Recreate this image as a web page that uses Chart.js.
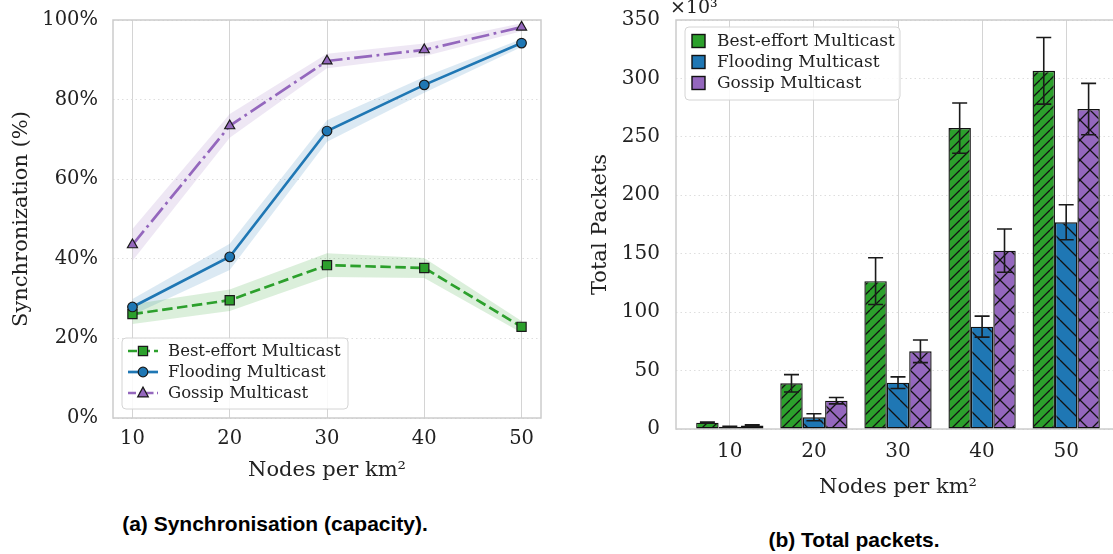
<!DOCTYPE html>
<html>
<head>
<meta charset="utf-8">
<script src="https://cdn.jsdelivr.net/npm/chart.js@4.4.1/dist/chart.umd.min.js"></script>
<style>
  html, body { margin: 0; padding: 0; background: #fff; overflow: hidden; }
  body { width: 1113px; height: 554px; position: relative; }
  #left { position: absolute; left: 0; top: 0; }
  #right { position: absolute; left: 560px; top: 0; }
  .cap { position: absolute; font: bold 21px "Liberation Sans", Arial, sans-serif; color: #000;
         transform: translate(-50%, -50%); white-space: nowrap; }
</style>
</head>
<body>
<canvas id="left" width="560" height="500"></canvas>
<canvas id="right" width="580" height="520"></canvas>
<div class="cap" style="left:275px; top:524px">(a) Synchronisation (capacity).</div>
<div class="cap" style="left:854px; top:540px">(b) Total packets.</div>
<script>
// values
const nodes = [10, 20, 30, 40, 50];
const seriesNames = ["Best-effort Multicast", "Flooding Multicast", "Gossip Multicast"];

// (a) synchronisation, percent, with shaded band half-widths
const syncBest = [26.1, 29.6, 38.4, 37.7, 22.9];
const syncFlood = [27.9, 40.5, 72.1, 83.7, 94.2];
const syncGossip = [43.5, 73.4, 89.7, 92.5, 98.2];
const syncBestBand = [2.5, 2.7, 3.0, 2.5, 1.5];
const syncFloodBand = [2.0, 3.3, 2.7, 2.0, 1.0];
const syncGossipBand = [4.0, 3.0, 1.8, 1.6, 1.0];

// (b) total packets, in thousands, with error bar half-heights
const pktBest = [5.4, 39.1, 126.5, 257.5, 306.5];
const pktFlood = [2.0, 10.0, 39.6, 87.6, 176.9];
const pktGossip = [2.9, 24.2, 66.5, 152.6, 273.8];
const pktBestErr = [0.5, 7.4, 20.0, 21.5, 28.5];
const pktFloodErr = [0.4, 3.0, 5.0, 9.0, 15.0];
const pktGossipErr = [0.6, 2.7, 9.7, 18.5, 22.0];

const GREEN = "#2ca02c", BLUE = "#1f77b4", PURPLE = "#9467bd";
const TXT = "#222222", EDGE = "#1a1a1a";

Chart.defaults.font.family = "'DejaVu Serif', serif";
Chart.defaults.color = TXT;

function marker(ctx, style, x, y, r, fill) {
    ctx.save();
    ctx.setLineDash([]);
    ctx.fillStyle = fill;
    ctx.strokeStyle = EDGE;
    ctx.lineWidth = 1.2;
    ctx.beginPath();
    if (style === "rect") {
        ctx.rect(x - r, y - r, 2 * r, 2 * r);
    } else if (style === "circle") {
        ctx.arc(x, y, r, 0, Math.PI * 2);
    } else {
        ctx.moveTo(x, y - r * 1.05);
        ctx.lineTo(x + r * 0.95, y + r * 0.7);
        ctx.lineTo(x - r * 0.95, y + r * 0.7);
        ctx.closePath();
    }
    ctx.fill();
    ctx.stroke();
    ctx.restore();
}

function roundBox(ctx, x, y, w, h) {
    ctx.save();
    ctx.beginPath();
    ctx.roundRect(x, y, w, h, 4);
    ctx.fillStyle = "rgba(255,255,255,0.85)";
    ctx.fill();
    ctx.strokeStyle = "#d4d4d4";
    ctx.lineWidth = 1;
    ctx.stroke();
    ctx.restore();
}

// frame around plot area, like the matplotlib spines
const frame = {
    id: "frame",
    beforeDatasetsDraw(chart) {
        const a = chart.chartArea, ctx = chart.ctx;
        ctx.save();
        ctx.strokeStyle = "#cccccc";
        ctx.lineWidth = 1.5;
        ctx.strokeRect(a.left, a.top, a.right - a.left, a.bottom - a.top);
        ctx.restore();
    }
};

// y axis: fixed width, and no extra top padding for the last tick label
function fixY(width) {
    return s => { s.width = width; s.paddingTop = 0; s.paddingBottom = 0; };
}

// ---------- (a) line chart ----------
function pts(vals, band, sign) {
    return nodes.map((n, i) => ({ x: n, y: vals[i] + sign * band[i] }));
}

const lineStyles = [
    { vals: syncBest, band: syncBestBand, color: GREEN, fillc: "rgba(44,160,44,0.17)", dash: [10.5, 4.5], legendDash: [9, 4], style: "rect", r: 4.6, pr: 6.5 },
    { vals: syncFlood, band: syncFloodBand, color: BLUE, fillc: "rgba(31,119,180,0.16)", dash: [], legendDash: [], style: "circle", r: 4.8, pr: 4.8 },
    { vals: syncGossip, band: syncGossipBand, color: PURPLE, fillc: "rgba(148,103,189,0.16)", dash: [18, 4.5, 2.8, 4.5], legendDash: [8, 3.5, 2.5, 3.5], style: "triangle", r: 5.6, pr: 5.8 }
];

const leftSets = [];
lineStyles.forEach(s => {
    leftSets.push({ data: pts(s.vals, s.band, 1), borderColor: "transparent", borderWidth: 0,
        pointRadius: 0, fill: false, order: 10 });
    leftSets.push({ data: pts(s.vals, s.band, -1), borderColor: "transparent", borderWidth: 0,
        pointRadius: 0, fill: "-1", backgroundColor: s.fillc, order: 10 });
});
lineStyles.forEach((s, k) => {
    leftSets.push({
        label: seriesNames[k],
        data: pts(s.vals, s.band, 0),
        borderColor: s.color, borderWidth: 2.7, borderDash: s.dash, tension: 0, fill: false,
        pointStyle: s.style, pointRadius: s.pr,
        pointBackgroundColor: s.color, pointBorderColor: EDGE, pointBorderWidth: 1.2,
        order: 2 - k
    });
});

const leftLegend = {
    id: "leftLegend",
    afterDraw(chart) {
        const ctx = chart.ctx;
        roundBox(ctx, 122, 338, 226, 71);
        lineStyles.forEach((s, k) => {
            const y = 351 + k * 21;
            ctx.save();
            ctx.strokeStyle = s.color;
            ctx.lineWidth = 2.7;
            ctx.setLineDash(s.legendDash);
            ctx.beginPath();
            ctx.moveTo(128, y);
            ctx.lineTo(158, y);
            ctx.stroke();
            ctx.restore();
            marker(ctx, s.style, 143, y, s.r, s.color);
            ctx.save();
            ctx.fillStyle = TXT;
            ctx.font = "16.5px 'DejaVu Serif'";
            ctx.textBaseline = "middle";
            ctx.fillText(seriesNames[k], 168, y + 1);
            ctx.restore();
        });
    }
};

new Chart(document.getElementById("left"), {
    type: "line",
    data: { datasets: leftSets },
    options: {
        responsive: false,
        animation: false,
        layout: { padding: { top: 20, right: 19, left: 0, bottom: 0 } },
        plugins: { legend: { display: false }, tooltip: { enabled: false } },
        scales: {
            x: {
                type: "linear", min: 8, max: 52,
                afterFit: s => { s.height = 82; },
                ticks: { stepSize: 10, includeBounds: false, padding: 9, maxRotation: 0, font: { size: 19.5 } },
                grid: { color: "#d4d4d4", lineWidth: 1, drawTicks: false },
                border: { display: false },
                title: { display: true, text: "Nodes per km²", font: { size: 21 }, padding: { top: 0, bottom: 17 } }
            },
            y: {
                min: 0, max: 100,
                afterFit: fixY(113),
                ticks: { stepSize: 20, padding: 15, font: { size: 19.5 }, callback: v => v + "%" },
                grid: { color: "#dedede", lineWidth: 1, drawTicks: false },
                border: { display: false, dash: [1.5, 3] },
                title: { display: true, text: "Synchronization (%)", font: { size: 21 }, padding: { top: 9, bottom: 0 } }
            }
        }
    },
    plugins: [frame, leftLegend]
});

// ---------- (b) bar chart ----------
function hatch(color, dirs, s) {
    const c = document.createElement("canvas");
    c.width = s; c.height = s;
    const g = c.getContext("2d");
    g.fillStyle = color;
    g.fillRect(0, 0, s, s);
    g.strokeStyle = "#111";
    g.lineWidth = 1.3;
    g.beginPath();
    dirs.forEach(d => {
        for (let k = -1; k <= 1; k++) {
            if (d === "/") { g.moveTo(k * s, s); g.lineTo(k * s + s, 0); }
            else { g.moveTo(k * s, 0); g.lineTo(k * s + s, s); }
        }
    });
    g.stroke();
    return g.createPattern(c, "repeat");
}

const barColors = [GREEN, BLUE, PURPLE];
const barVals = [pktBest, pktFlood, pktGossip];
const barErrs = [pktBestErr, pktFloodErr, pktGossipErr];
const hatches = [["/"], ["\\"], ["/", "\\"]];
const hatchSize = [10, 20, 20];

const rightSets = barVals.map((vals, k) => ({
    label: seriesNames[k],
    data: vals.map((v, i) => ({ x: i, y: v })),
    backgroundColor: hatch(barColors[k], hatches[k], hatchSize[k]),
    borderColor: "#111",
    borderWidth: 1.4,
    borderSkipped: false,
    categoryPercentage: 0.8,
    barPercentage: 1.0
}));

const errorBars = {
    id: "errorBars",
    afterDatasetsDraw(chart) {
        const ctx = chart.ctx, yS = chart.scales.y;
        ctx.save();
        ctx.strokeStyle = "#1a1a1a";
        ctx.lineWidth = 1.6;
        barErrs.forEach((errs, k) => {
            chart.getDatasetMeta(k).data.forEach((bar, i) => {
                const v = barVals[k][i];
                const t = yS.getPixelForValue(v + errs[i]);
                const b = yS.getPixelForValue(v - errs[i]);
                ctx.beginPath();
                ctx.moveTo(bar.x, t); ctx.lineTo(bar.x, b);
                ctx.moveTo(bar.x - 7.5, t); ctx.lineTo(bar.x + 7.5, t);
                ctx.moveTo(bar.x - 7.5, b); ctx.lineTo(bar.x + 7.5, b);
                ctx.stroke();
            });
        });
        ctx.restore();
    }
};

const rightLegend = {
    id: "rightLegend",
    afterDraw(chart) {
        const ctx = chart.ctx;
        roundBox(ctx, 125, 27, 215, 73);
        barColors.forEach((c, k) => {
            const y = 41 + k * 21;
            ctx.save();
            ctx.fillStyle = c;
            ctx.strokeStyle = "#111";
            ctx.lineWidth = 1.4;
            ctx.fillRect(132, y - 6.5, 13, 13);
            ctx.strokeRect(132, y - 6.5, 13, 13);
            ctx.fillStyle = TXT;
            ctx.font = "17px 'DejaVu Serif'";
            ctx.textBaseline = "middle";
            ctx.fillText(seriesNames[k], 157, y + 1);
            ctx.restore();
        });
        // scale offset text
        ctx.save();
        ctx.fillStyle = TXT;
        ctx.font = "19px 'DejaVu Serif'";
        ctx.textBaseline = "alphabetic";
        ctx.fillText("×10³", 110, 13);
        ctx.restore();
    }
};

new Chart(document.getElementById("right"), {
    type: "bar",
    data: { datasets: rightSets },
    options: {
        responsive: false,
        animation: false,
        layout: { padding: { top: 20, right: 20, left: 0, bottom: 0 } },
        plugins: { legend: { display: false }, tooltip: { enabled: false } },
        scales: {
            x: {
                type: "linear", min: -0.64, max: 4.64, offset: false,
                afterFit: s => { s.height = 91; },
                ticks: { stepSize: 1, includeBounds: false, padding: 11, maxRotation: 0, font: { size: 20 },
                         callback: v => nodes[v] },
                grid: { color: "#d4d4d4", lineWidth: 1, drawTicks: false, offset: false },
                border: { display: false },
                title: { display: true, text: "Nodes per km²", font: { size: 21 }, padding: { top: 0, bottom: 20 } }
            },
            y: {
                min: 0, max: 350,
                afterFit: fixY(116),
                ticks: { stepSize: 50, padding: 16, font: { size: 20 } },
                grid: { color: "#dedede", lineWidth: 1, drawTicks: false },
                border: { display: false, dash: [1.5, 3] },
                title: { display: true, text: "Total Packets", font: { size: 21 }, padding: { top: 28, bottom: 0 } }
            }
        }
    },
    plugins: [frame, errorBars, rightLegend]
});
</script>
</body>
</html>
